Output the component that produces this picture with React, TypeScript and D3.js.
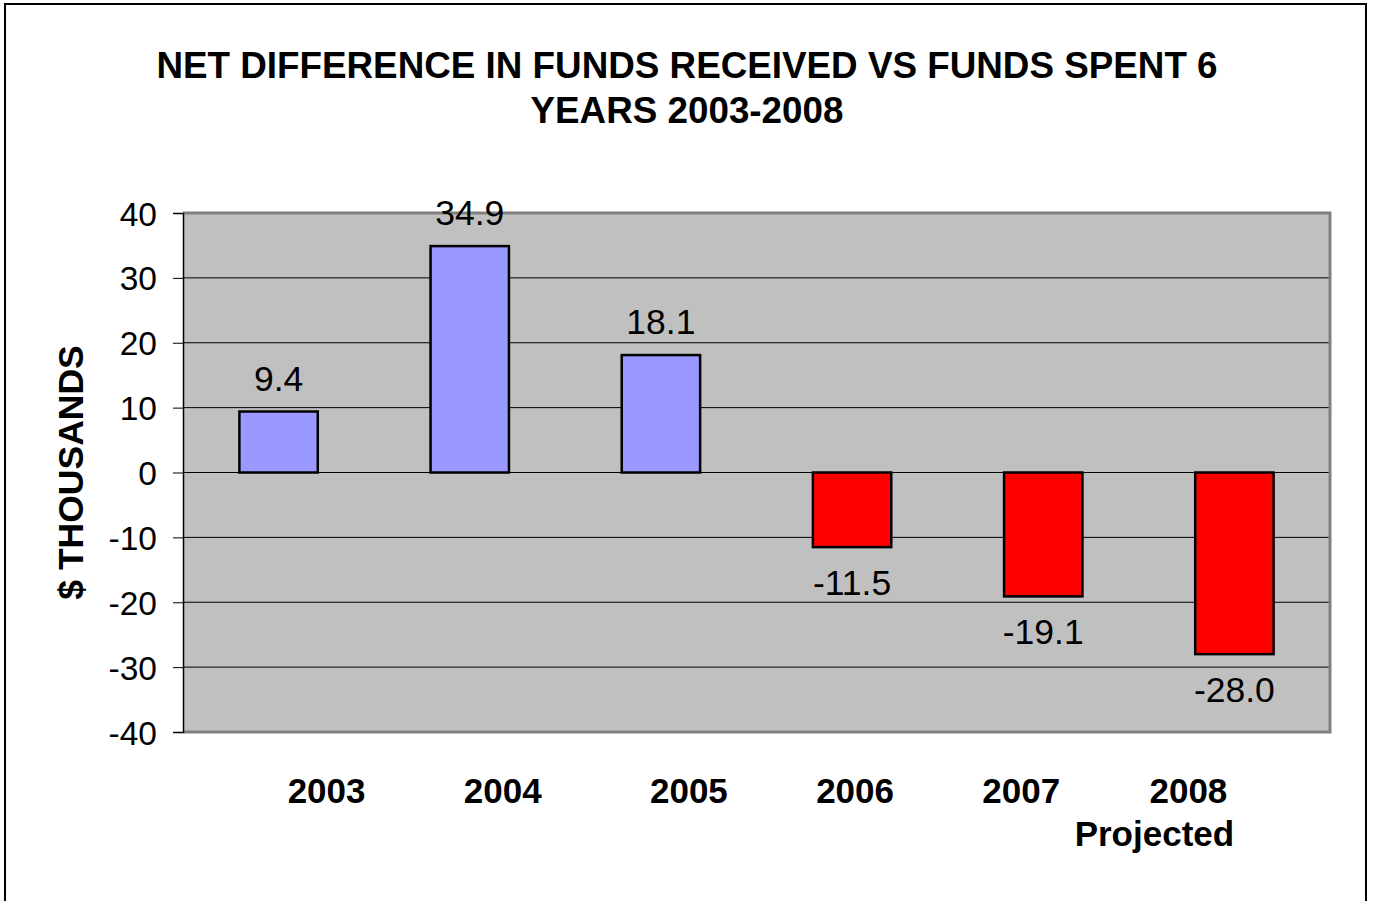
import { useEffect, useRef } from "react";
import * as d3 from "d3";

const years = ["2003", "2004", "2005", "2006", "2007", "2008"];
const subLabels = ["", "", "", "", "", "Projected"];
const netValues = [9.4, 34.9, 18.1, -11.5, -19.1, -28.0];
const yTicks = [40, 30, 20, 10, 0, -10, -20, -30, -40];
// the year labels in the original sit off-centre from their bars
const labelShift = [48, 33, 28, 3, -22, -46];
const subShift = -34;

const FONT = "Arial, 'Liberation Sans', sans-serif";

export default function App() {
  const svgRef = useRef<SVGSVGElement | null>(null);

  useEffect(() => {
    if (!svgRef.current) return;
    const width = 1374;
    const height = 901;
    const plot = { left: 183, top: 213, right: 1330, bottom: 732 };

    const x = d3
      .scaleBand<string>()
      .domain(years)
      .range([plot.left, plot.right])
      .paddingInner(0.59)
      .paddingOuter(0.295);
    const y = d3.scaleLinear().domain([-40, 40]).range([plot.bottom, plot.top]);

    const svg = d3.select(svgRef.current);
    svg.selectAll("*").remove();
    svg.attr("viewBox", `0 0 ${width} ${height}`);

    svg
      .append("rect")
      .attr("x", 5)
      .attr("y", 4)
      .attr("width", 1361)
      .attr("height", 920)
      .attr("fill", "#fff")
      .attr("stroke", "#000")
      .attr("stroke-width", 2);

    const title = svg
      .append("text")
      .attr("text-anchor", "middle")
      .attr("font-family", FONT)
      .attr("font-weight", "bold")
      .attr("font-size", 36.8);
    title.append("tspan").attr("x", 687).attr("y", 78).text("NET DIFFERENCE IN FUNDS RECEIVED VS FUNDS SPENT 6");
    title.append("tspan").attr("x", 687).attr("y", 123).text("YEARS 2003-2008");

    // plot background
    svg
      .append("rect")
      .attr("x", plot.left)
      .attr("y", plot.top)
      .attr("width", plot.right - plot.left)
      .attr("height", plot.bottom - plot.top)
      .attr("fill", "#c0c0c0");

    svg
      .append("g")
      .selectAll("line")
      .data(yTicks.filter((t) => t !== 40 && t !== -40))
      .enter()
      .append("line")
      .attr("x1", plot.left)
      .attr("x2", plot.right)
      .attr("y1", (d) => y(d))
      .attr("y2", (d) => y(d))
      .attr("stroke", "#000")
      .attr("stroke-width", 1);

    // gray plot border (top, right, bottom)
    svg
      .append("path")
      .attr("d", `M${plot.left},${plot.top}H${plot.right}V${plot.bottom}H${plot.left}`)
      .attr("fill", "none")
      .attr("stroke", "#808080")
      .attr("stroke-width", 3);

    const yAxis = svg
      .append("g")
      .attr("transform", `translate(${plot.left},0)`)
      .call(d3.axisLeft(y).tickValues(yTicks).tickSize(10).tickPadding(16).tickFormat((v) => String(v)));
    yAxis.select(".domain").attr("stroke", "#000").attr("stroke-width", 1.5);
    yAxis.selectAll("line").attr("stroke", "#000");
    yAxis
      .selectAll("text")
      .attr("fill", "#000")
      .attr("font-family", FONT)
      .attr("font-size", 33.5)
      .attr("dy", "0.36em");

    const bars = svg.append("g");
    bars
      .selectAll("rect")
      .data(netValues)
      .enter()
      .append("rect")
      .attr("x", (_, i) => x(years[i])!)
      .attr("width", x.bandwidth())
      .attr("y", (d) => y(Math.max(0, d)))
      .attr("height", (d) => Math.abs(y(d) - y(0)))
      .attr("fill", (d) => (d >= 0 ? "#9999ff" : "#ff0000"))
      .attr("stroke", "#000")
      .attr("stroke-width", 2.5);

    bars
      .selectAll("text")
      .data(netValues)
      .enter()
      .append("text")
      .attr("x", (_, i) => x(years[i])! + x.bandwidth() / 2)
      .attr("y", (d) => (d >= 0 ? y(d) - 21 : y(d) + 48))
      .attr("text-anchor", "middle")
      .attr("font-family", FONT)
      .attr("font-size", 35.5)
      .text((d) => d.toFixed(1));

    const xl = svg
      .append("g")
      .attr("font-family", FONT)
      .attr("font-weight", "bold")
      .attr("font-size", 35)
      .attr("text-anchor", "middle");
    years.forEach((yr, i) => {
      const cx = x(yr)! + x.bandwidth() / 2 + labelShift[i];
      xl.append("text").attr("x", cx).attr("y", 803).text(yr);
      if (subLabels[i]) {
        xl.append("text").attr("x", cx + subShift).attr("y", 846).text(subLabels[i]);
      }
    });

    svg
      .append("text")
      .attr("transform", `translate(83,${(plot.top + plot.bottom) / 2}) rotate(-90)`)
      .attr("text-anchor", "middle")
      .attr("font-family", FONT)
      .attr("font-weight", "bold")
      .attr("font-size", 35.5)
      .text("$ THOUSANDS");
  }, []);

  return (
    <svg
      ref={svgRef}
      width={1374}
      height={901}
      style={{ position: "absolute", left: 0, top: 0, display: "block" }}
    />
  );
}
